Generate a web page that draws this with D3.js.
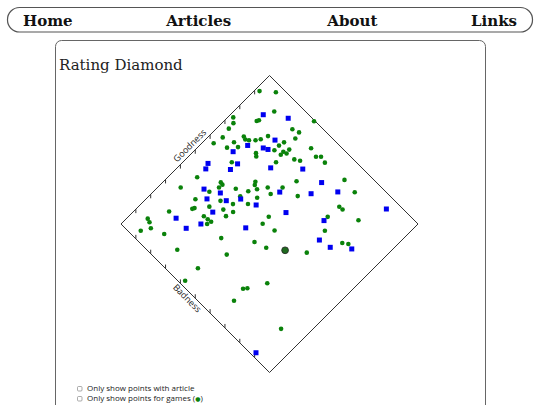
<!DOCTYPE html>
<html><head><meta charset="utf-8">
<script src="https://cdn.jsdelivr.net/npm/d3@7"></script>
<style>
html,body{margin:0;padding:0;background:#fff;width:540px;height:405px;overflow:hidden;}
svg{display:block;}
</style></head>
<body>
<div id="root"></div>
<script>
// ---- data ----
const navItems = ["Home", "Articles", "About", "Links"];
const chartTitle = "Rating Diamond";
const axisLabels = ["Goodness", "Badness"];
const axisTicks = [1, 2, 3, 4, 5, 6, 7, 8, 9];
const checkboxLabels = ["Only show points with article", "Only show points for games ("];

// green circles (games)
const gameGoodness = [9.14,9.65,8.95,8.04,8.14,7.37,7.18,6.84,9.96,8.96,9.08,6.34,5.84,6.56,6.14,6.53,7.08,7.03,7.13,7.35,7.56,7.91,6.93,6.83,5.81,7.65,8.24,7.96,7.90,7.95,8.17,7.71,8.75,8.95,8.83,9.00,8.93,8.01,8.16,7.30,7.35,9.01,6.17,6.67,6.05,6.89,8.94,4.14,3.24,4.76,4.74,4.53,4.06,5.05,5.39,5.95,5.82,5.75,3.34,4.13,4.95,5.47,3.56,4.44,4.95,2.91,3.01,3.93,2.04,4.18,3.80,3.05,3.08,3.11,2.90,1.08,1.02,0.86,0.44,1.12,4.78,5.22,4.95,7.93,7.95,7.20,8.12,6.64,2.90,3.89,4.09,1.03,2.53,6.81,6.98,5.29,1.10,0.25,1.93,2.09,2.93,1.22,1.86];
const gameBadness = [0.19,0.78,1.37,1.10,1.15,0.19,0.39,0.42,3.04,2.58,2.91,0.51,0.40,1.05,1.00,1.35,1.19,1.34,1.49,1.71,1.85,1.99,2.16,2.28,1.65,2.68,2.74,2.68,3.03,3.20,3.16,3.05,2.99,3.85,4.30,4.47,4.80,3.66,3.90,3.14,4.47,6.04,3.71,4.21,4.03,5.01,6.80,0.99,0.78,1.96,2.09,2.07,1.89,2.68,3.18,3.10,3.19,3.41,1.67,2.57,3.08,3.70,2.39,3.10,3.60,1.89,1.94,2.96,1.20,3.37,3.27,2.53,2.76,2.96,2.90,0.72,0.90,1.15,0.89,1.79,4.76,4.73,5.39,6.77,6.97,6.72,7.87,7.09,3.85,5.10,5.69,2.76,4.59,8.09,8.33,7.22,4.08,4.07,6.29,6.42,6.92,6.39,8.92];

// blue squares (other)
const otherGoodness = [8.47,9.19,6.21,6.91,7.35,7.46,5.95,4.97,4.71,5.52,6.93,8.01,7.97,8.15,6.42,7.42,8.38,3.97,4.39,3.74,4.33,4.87,5.19,3.49,2.69,2.05,2.05,4.07,9.44,5.94,6.95,6.14,6.26,6.93,0.21];
const otherBadness = [1.11,2.07,1.34,1.62,2.23,2.44,1.90,0.89,1.00,1.85,3.15,2.36,4.27,5.36,4.27,5.38,6.22,1.62,2.30,2.05,2.76,3.19,3.91,2.69,2.69,1.66,2.34,4.33,8.43,5.17,6.72,7.22,7.83,8.61,8.88];

// highlighted (selected) game point
const selectedGoodness = [4.64];
const selectedBadness = [6.41];

// ---- drawing ----
const W = 540, H = 405;
const svg = d3.select("#root").append("svg").attr("width", W).attr("height", H);

// nav bar
svg.append("rect").attr("x", 7.5).attr("y", 7.5).attr("width", 525).attr("height", 24.5)
  .attr("rx", 12).attr("fill", "none").attr("stroke", "#555").attr("stroke-width", 1.2);
const navX = d3.scalePoint().domain(navItems).range([23, 517]);
svg.selectAll("text.nav").data(navItems).enter().append("text")
  .attr("class", "nav")
  .attr("x", d => navX(d))
  .attr("y", 26)
  .attr("text-anchor", (d, i) => i === 0 ? "start" : (i === navItems.length - 1 ? "end" : "middle"))
  .attr("dx", (d, i) => i === 1 ? 11 : 0)
  .attr("font-family", "'DejaVu Serif', serif").attr("font-weight", "bold")
  .attr("font-size", 15).attr("fill", "#111").text(d => d);

// card
svg.append("rect").attr("x", 55.5).attr("y", 40.5).attr("width", 430).attr("height", 420)
  .attr("rx", 6).attr("fill", "none").attr("stroke", "#666").attr("stroke-width", 1);
svg.append("text").attr("x", 59).attr("y", 69.5)
  .attr("font-family", "'DejaVu Serif', serif").attr("font-size", 15).attr("fill", "#222")
  .text(chartTitle);

// diamond scales
const x0 = 121, y0 = 224, half = 148.5;
const gS = d3.scaleLinear().domain([0, 10]).range([0, half]);
const bS = d3.scaleLinear().domain([0, 10]).range([0, half]);
const px = (g, b) => x0 + gS(g) + bS(b);
const py = (g, b) => y0 - gS(g) + bS(b);

const chart = svg.append("g");
const corners = [[0,0],[10,0],[10,10],[0,10]];
chart.append("path")
  .attr("d", d3.line()(corners.map(c => [px(c[0], c[1]), py(c[0], c[1])])) + "Z")
  .attr("fill", "none").attr("stroke", "#333").attr("stroke-width", 1);

// ticks (goodness edge: b=0, badness edge: g=0)
const tickLen = 4;
chart.selectAll("line.gt").data(axisTicks).enter().append("line")
  .attr("x1", d => px(d, 0)).attr("x2", d => px(d, 0))
  .attr("y1", d => py(d, 0)).attr("y2", d => py(d, 0) + tickLen)
  .attr("stroke", "#333").attr("stroke-width", 1);
chart.selectAll("line.bt").data(axisTicks).enter().append("line")
  .attr("x1", d => px(0, d)).attr("x2", d => px(0, d))
  .attr("y1", d => py(0, d)).attr("y2", d => py(0, d) - tickLen)
  .attr("stroke", "#333").attr("stroke-width", 1);

// axis labels
const gl = [px(4.95, 0) - 5.1, py(4.95, 0) - 5.1];
chart.append("text").attr("transform", `translate(${gl[0]},${gl[1]}) rotate(-45)`)
  .attr("text-anchor", "middle").attr("dominant-baseline", "central")
  .attr("font-family", "'Open Sans', sans-serif").attr("font-size", 9).attr("fill", "#222")
  .text(axisLabels[0]);
const bl = [px(0, 4.73) - 3.8, py(0, 4.73) + 3.8];
chart.append("text").attr("transform", `translate(${bl[0]},${bl[1]}) rotate(45)`)
  .attr("text-anchor", "middle").attr("dominant-baseline", "central")
  .attr("font-family", "'Open Sans', sans-serif").attr("font-size", 9).attr("fill", "#222")
  .text(axisLabels[1]);

// game points
const games = gameGoodness.map((g, i) => ({g, b: gameBadness[i]}));
chart.selectAll("circle.game").data(games).enter().append("circle")
  .attr("class", "game")
  .attr("cx", d => px(d.g, d.b)).attr("cy", d => py(d.g, d.b))
  .attr("r", 2.3).attr("fill", "#0a820a");

// other points
const others = otherGoodness.map((g, i) => ({g, b: otherBadness[i]}));
const sq = 5;
chart.selectAll("rect.other").data(others).enter().append("rect")
  .attr("class", "other")
  .attr("x", d => px(d.g, d.b) - sq / 2).attr("y", d => py(d.g, d.b) - sq / 2)
  .attr("width", sq).attr("height", sq).attr("fill", "#0000f0");

// selected point
const sel = selectedGoodness.map((g, i) => ({g, b: selectedBadness[i]}));
chart.selectAll("circle.sel").data(sel).enter().append("circle")
  .attr("cx", d => px(d.g, d.b)).attr("cy", d => py(d.g, d.b))
  .attr("r", 3.4).attr("fill", "#1f6a1f").attr("stroke", "#222").attr("stroke-width", 0.8);

// checkboxes
const cb = svg.append("g");
checkboxLabels.forEach((lab, i) => {
  const yb = 391 + i * 10;
  cb.append("rect").attr("x", 77.5).attr("y", yb - 4.5).attr("width", 4.5).attr("height", 4.5)
    .attr("rx", 1).attr("fill", "#fff").attr("stroke", "#888").attr("stroke-width", 0.7);
  const t = cb.append("text").attr("x", 87).attr("y", yb)
    .attr("font-family", "'Open Sans', sans-serif").attr("font-size", 8).attr("fill", "#222");
  t.append("tspan").text(lab);
  if (i === 1) {
    t.append("tspan").attr("fill", "#0a820a").attr("font-size", 6).attr("font-family", "'DejaVu Sans', sans-serif").text("●");
    t.append("tspan").text(")");
  }
});
</script>
</body></html>
